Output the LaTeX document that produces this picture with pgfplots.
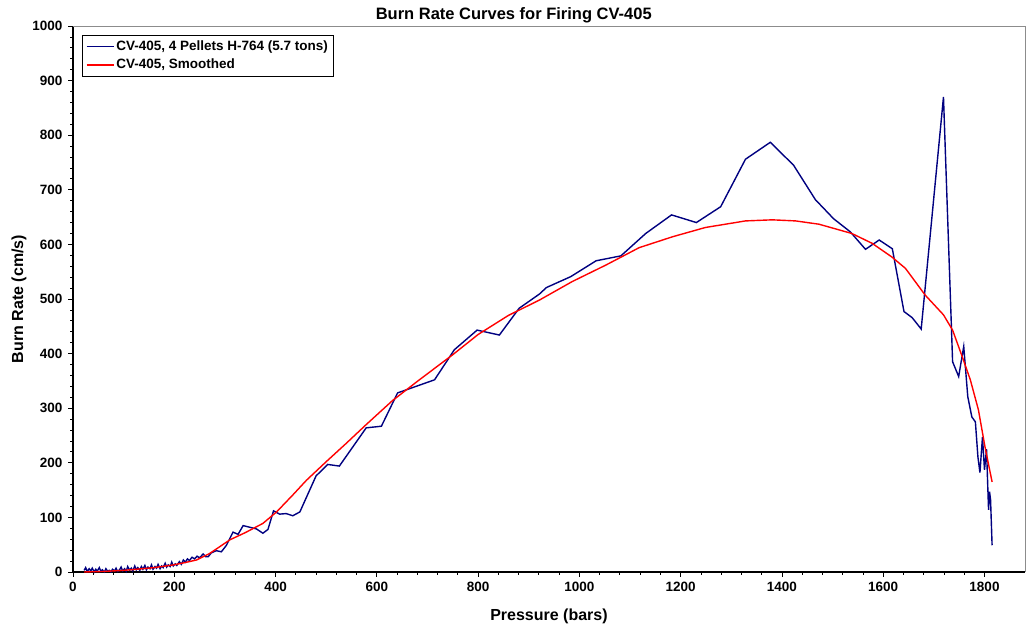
\documentclass[border=0pt]{standalone}
\usepackage{fontspec}
\setmainfont{Liberation Sans}
\usepackage{pgfplots}
\pgfplotsset{compat=1.18}

\definecolor{navyline}{RGB}{0,0,128}
\definecolor{redline}{RGB}{255,0,0}
\definecolor{frame}{RGB}{140,140,140}

\begin{document}
\begin{tikzpicture}
\begin{axis}[
    width=952pt, height=546pt,
    scale only axis,
    xmin=0, xmax=1880,
    ymin=0, ymax=1000,
    xtick={0,200,...,1800},
    ytick={0,100,...,1000},
    minor x tick num=4,
    minor y tick num=4,
    tick align=outside,
    major tick length=5pt,
    minor tick length=3pt,
    axis x line*=bottom,
    axis y line*=left,
    axis line style={line width=1.2pt, -},
    tick style={black, line width=0.8pt},
    /pgf/number format/assume math mode=true,
    /pgf/number format/1000 sep={},
    ticklabel style={font=\fontsize{13.5}{15}\selectfont\bfseries},
    xticklabel style={yshift=-2pt},
    yticklabel style={xshift=-2pt},
    xlabel={Pressure (bars)},
    ylabel={Burn Rate (cm/s)},
    label style={font=\fontsize{16}{18}\selectfont\bfseries},
    xlabel style={yshift=-10pt},
    ylabel style={yshift=-1pt},
    title={Burn Rate Curves for Firing CV-405},
    title style={font=\fontsize{16.5}{18}\selectfont\bfseries, at={(0.463,1)}, anchor=base, yshift=0pt},
    legend style={at={(0.0095,0.9835)}, anchor=north west, draw=black, line width=0.8pt,
        font=\fontsize{13.5}{15}\selectfont\bfseries, row sep=3pt, inner sep=3.5pt},
    legend image code/.code={\draw[#1] (0pt,0pt) -- (27pt,0pt);},
    legend cell align=left,
    clip=false,
]
\draw[frame, line width=0.8pt] (rel axis cs:0,1) -- (rel axis cs:1,1) -- (rel axis cs:1,0);

\addplot[color=navyline, line width=1.4pt] coordinates {
    (22,3) (25,8) (28,1) (32,6) (35,2) (38,7) (42,0) (45,5) (48,2) (52,8)
    (55,1) (58,4) (62,0) (65,6) (68,2) (72,3) (75,0) (78,5) (82,2) (85,7)
    (88,1) (92,4) (95,9) (98,2) (102,6) (105,1) (108,10) (112,3) (115,7) (118,2)
    (122,11) (125,4) (128,8) (132,3) (135,10) (138,5) (142,12) (145,4) (148,9) (152,6)
    (155,13) (158,5) (162,10) (165,7) (168,14) (172,6) (175,11) (178,8) (182,16) (185,9)
    (188,13) (192,10) (195,18) (198,11) (202,15) (205,12) (210,19) (214,14) (218,22) (222,18)
    (226,24) (230,21) (235,27) (240,24) (245,29) (250,26) (257,33) (262,28) (267,28) (273,35)
    (283,39) (293,37) (303,49) (316,73) (326,69) (336,85) (362,79) (375,71) (385,78) (396,112)
    (408,106) (421,107) (434,103) (448,110) (480,176) (503,197) (526,194) (579,264) (609,267) (641,328)
    (714,352) (753,407) (798,443) (842,434) (881,483) (921,509) (935,521) (983,541) (1033,570) (1082,579)
    (1131,620) (1182,654) (1231,640) (1279,669) (1328,756) (1377,787) (1423,745) (1466,682) (1502,647) (1535,623)
    (1565,591) (1592,608) (1618,592) (1641,477) (1657,466) (1675,445) (1719,870) (1735,440) (1737,385) (1749,358)
    (1759,413) (1767,321) (1775,284) (1782,275) (1787,211) (1791,182) (1796,247) (1800,187) (1804,225) (1808,114)
    (1810,147) (1812,132) (1815,49)
};
\addlegendentry{CV-405, 4 Pellets H-764 (5.7 tons)}

\addplot[color=redline, line width=1.4pt] coordinates {
    (22,0) (60,1) (100,3) (125,5) (160,8) (198,13) (220,17) (244,22) (270,34) (310,59)
    (340,72) (375,89) (402,110) (434,141) (461,168) (500,202) (540,236) (579,270) (631,314) (684,352)
    (750,398) (800,435) (860,470) (921,498) (986,532) (1052,562) (1118,594) (1184,614) (1249,631) (1328,643)
    (1381,645) (1427,643) (1473,637) (1538,620) (1578,602) (1617,577) (1644,556) (1683,507) (1719,471) (1737,443)
    (1755,397) (1772,352) (1788,297) (1801,229) (1815,165)
};
\addlegendentry{CV-405, Smoothed}
\end{axis}
\pgfresetboundingbox
\path ([shift={(-73pt,-57pt)}]current axis.south west) rectangle ([shift={(3pt,26pt)}]current axis.north east);
\end{tikzpicture}
\end{document}
